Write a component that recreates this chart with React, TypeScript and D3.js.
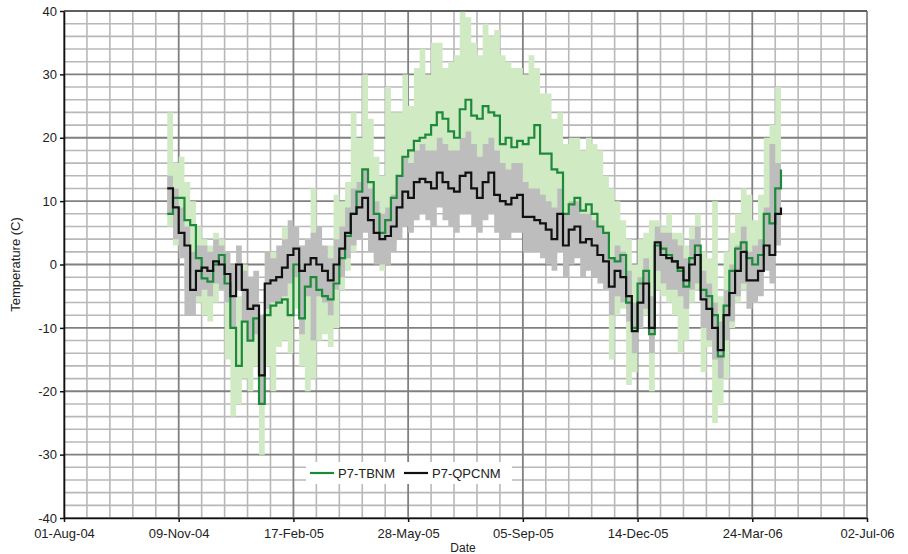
import React, { useEffect, useRef } from "react";
import * as d3 from "d3";

// samples every 5 days starting 30-Oct-04
const firstSample = new Date(2004, 9, 30);
const sampleStep = 5;

// P7-TBNM daily mean (green line)
const tbnm = [
  8, 10.5, 10.5, 7, 6.2, 1, -2.2, -2.7, 0, 1.5,
  -3, -10, -16, -9, -12, -8.5, -22, -8, -6.5, -6,
  -5.5, -8, 0, -8.5, -3.5, -2, -4, -5, -5.5, -3,
  1, 4.5, 8, 11.5, 15, 13, 8, 5, 7, 10.5,
  14, 17, 18, 19.5, 20, 20.5, 22, 24, 23, 21,
  20, 24.5, 26, 23.5, 23, 25, 24, 23.5, 19, 20,
  18.5, 19.5, 19, 20, 22, 17.5, 17.5, 15, 14.5, 8,
  9.5, 10.5, 8.5, 9.5, 8, 6, 5, 1, 0.5, 1.5,
  -6, -10, -3, -1, -11, 3, 2.5, 1.5, 0.5, -1,
  -3.5, 1, 3, -4, -5, -8, -14.5, -6.5, -1, 2.5,
  3.5, 1, 0, 1.5, 8, 6.5, 12, 15,
];

// P7-QPCNM daily mean (black line)
const qpcnm = [
  12, 9, 5, 3, -4, -1, -0.5, -1, 0.5, 0,
  -1.5, -5, 0, -4, -7, -6.5, -17.5, -3, -2.5, -2,
  -0.5, 1.5, 2.5, -1, 0, 1, 0, -1, -2.5, 0,
  2.5, 5, 8, 9, 10.5, 7, 5, 4, 4.5, 6,
  9, 11.5, 10.5, 13, 13.5, 13, 12, 14.5, 13, 12,
  11.5, 14, 14.5, 12, 10.5, 13, 14.5, 11, 10, 9.5,
  10.5, 11, 7.5, 7.5, 7, 6.5, 5.5, 4, 8, 3,
  5.5, 6, 3.5, 4, 3, 1.5, 0.5, -3.5, -1, -2,
  -5, -10.5, -6, -3, -10, 3.5, 1.5, 1, 0.5, -0.5,
  -2.5, 0, 1.5, -5.5, -7, -10, -13.5, -8, -4.5, -1,
  2, -2.5, -2.5, -1, 3, 1.5, 8, 9,
];

// TBNM daily range (light green band)
const tbnmHigh = [
  24, 16, 17, 13, 10, 6, 4, 3, 5, 4,
  2, -3, -5, 0, -3, -2, -8, 2, 2, 0,
  6, 1, 6, 2, 4, 12, 3, 1, 3, 11,
  10, 13, 24, 20, 30, 23, 17, 14, 28, 24,
  24, 30, 25, 31, 34, 30, 35, 35, 31, 32,
  33, 40, 39, 35, 33, 38, 36, 37, 33, 32,
  31, 31, 30, 33, 31, 27, 27, 23, 24, 19,
  20, 20, 18, 20, 19, 18, 14, 12, 10, 7,
  4, 0, 4, 5, 7, 7, 6, 8, 5, 5,
  3, 6, 8, 2, 1, 10, -5, 2, 5, 8,
  12, 11, 7, 11, 20, 22, 28, 28,
];
const tbnmLow = [
  6, 3, 2, -4, -6, -6, -8, -9, -6, -4,
  -15, -24, -22, -18, -20, -16, -30, -16, -20, -13,
  -12, -14, -7, -16, -20, -18, -12, -11, -13, -10,
  -4, -1, 2, 4, 6, 3, 1, -1, 0, 3,
  5, 8, 8, 9, 10, 10, 11, 12, 11, 10,
  10, 12, 13, 12, 11, 12, 12, 11, 9, 9,
  9, 9, 7, 8, 8, 6, 5, 4, 5, 0,
  2, 3, 1, 2, 0, -2, -4, -15, -8, -7,
  -19, -17, -9, -8, -20, -4, -5, -6, -8, -14,
  -12, -6, -4, -17, -13, -25, -22, -18, -10, -6,
  -4, -7, -6, -4, 1, -2, 5, 8,
];

// QPCNM daily range (grey band)
const qpcnmHigh = [
  14, 12, 9, 6, 2, 3, 3, 2, 4, 3,
  2, 0, 3, -1, -2, -1, -8, 2, 1, 3,
  4, 7, 6, 3, 4, 5, 6, 3, 1, 4,
  6, 9, 12, 13, 15, 12, 10, 8, 9, 11,
  14, 17, 16, 18, 19, 18, 18, 20, 19, 18,
  18, 20, 21, 19, 17, 19, 20, 18, 16, 15,
  16, 16, 13, 12, 12, 11, 10, 9, 12, 8,
  10, 10, 8, 8, 7, 6, 5, 1, 3, 2,
  -1, -6, -2, 1, -5, 6, 5, 5, 4, 3,
  1, 4, 6, -1, -3, -6, -9, -4, 0, 3,
  6, 2, 3, 4, 9, 19, 16, 18,
];
const qpcnmLow = [
  8, 4, 1, -8, -8, -5, -4, -5, -3, -4,
  -6, -10, -4, -9, -12, -11, -22, -7, -6, -6,
  -5, -3, -2, -11, -5, -12, -5, -6, -8, -4,
  -2, 1, 3, 4, 5, 2, 0, 0, 0, 2,
  4, 6, 5, 7, 8, 7, 6, 9, 7, 6,
  5, 8, 8, 6, 5, 7, 8, 5, 4, 4,
  5, 5, 2, 2, 2, 1, 0, -1, 2, -2,
  0, 1, -2, -1, -2, -3, -4, -8, -5, -6,
  -9, -14, -10, -7, -14, -1, -3, -4, -4, -5,
  -7, -4, -3, -10, -12, -15, -18, -12, -9, -5,
  -3, -7, -6, -5, -1, -3, 3, 5,
];

const xTickDates = [
  "2004-08-01", "2004-11-09", "2005-02-17", "2005-05-28",
  "2005-09-05", "2005-12-14", "2006-03-24", "2006-07-02",
];
const yTicks = [40, 30, 20, 10, 0, -10, -20, -30, -40];
const seriesNames = ["P7-TBNM", "P7-QPCNM"];

const W = 908;
const H = 554;
const margin = { top: 11, right: 41, bottom: 36, left: 64 };

export default function App() {
  const ref = useRef<SVGSVGElement>(null);

  useEffect(() => {
    const svg = d3.select(ref.current);
    svg.selectAll("*").remove();

    const parse = d3.timeParse("%Y-%m-%d");
    const tickDates = xTickDates.map((s) => parse(s) as Date);
    const dates = tbnm.map((_, i) => d3.timeDay.offset(firstSample, i * sampleStep));

    const x = d3
      .scaleTime()
      .domain([tickDates[0], tickDates[tickDates.length - 1]])
      .range([margin.left, W - margin.right]);
    const y = d3.scaleLinear().domain([-40, 40]).range([H - margin.bottom, margin.top]);

    const font = "'Liberation Sans', Arial, sans-serif";
    const fs = 13;

    // grid
    const grid = svg.append("g");
    const minorY = d3.range(-40, 41, 2).filter((v) => v % 10 !== 0);
    grid
      .selectAll(".hy")
      .data(minorY)
      .join("line")
      .attr("x1", margin.left)
      .attr("x2", W - margin.right)
      .attr("y1", (d) => y(d))
      .attr("y2", (d) => y(d))
      .attr("stroke", "#b8b8b8")
      .attr("stroke-width", 1.6);
    const minorX: Date[] = [];
    for (let k = 0; k < tickDates.length - 1; k++) {
      for (let j = 1; j < 5; j++) minorX.push(d3.timeDay.offset(tickDates[k], j * 20));
    }
    grid
      .selectAll(".vx")
      .data(minorX)
      .join("line")
      .attr("x1", (d) => x(d))
      .attr("x2", (d) => x(d))
      .attr("y1", margin.top)
      .attr("y2", H - margin.bottom)
      .attr("stroke", "#b8b8b8")
      .attr("stroke-width", 1.6);
    grid
      .selectAll(".hmaj")
      .data(yTicks)
      .join("line")
      .attr("x1", margin.left)
      .attr("x2", W - margin.right)
      .attr("y1", (d) => y(d))
      .attr("y2", (d) => y(d))
      .attr("stroke", "#808080")
      .attr("stroke-width", 1.8);
    grid
      .selectAll(".vmaj")
      .data(tickDates)
      .join("line")
      .attr("x1", (d) => x(d))
      .attr("x2", (d) => x(d))
      .attr("y1", margin.top)
      .attr("y2", H - margin.bottom)
      .attr("stroke", "#808080")
      .attr("stroke-width", 1.8);

    const idx = d3.range(tbnm.length);
    const band = (hi: number[], lo: number[]) =>
      d3
        .area<number>()
        .x((i) => x(dates[i]))
        .y0((i) => y(lo[i]))
        .y1((i) => y(hi[i]))
        .curve(d3.curveStepAfter);
    const line = (vals: number[]) =>
      d3
        .line<number>()
        .x((i) => x(dates[i]))
        .y((i) => y(vals[i]))
        .curve(d3.curveStepAfter);

    svg.append("path").attr("d", band(tbnmHigh, tbnmLow)(idx)).attr("fill", "#d0eac4");
    svg.append("path").attr("d", band(qpcnmHigh, qpcnmLow)(idx)).attr("fill", "#bdbdbd");
    svg
      .append("path")
      .attr("d", line(tbnm)(idx))
      .attr("fill", "none")
      .attr("stroke", "#1d8a3a")
      .attr("stroke-width", 2.2);
    svg
      .append("path")
      .attr("d", line(qpcnm)(idx))
      .attr("fill", "none")
      .attr("stroke", "#111")
      .attr("stroke-width", 2.2);

    // axes frame
    const bottom = H - margin.bottom;
    svg
      .append("line")
      .attr("x1", margin.left)
      .attr("x2", W - margin.right)
      .attr("y1", margin.top)
      .attr("y2", margin.top)
      .attr("stroke", "#555")
      .attr("stroke-width", 1.5);

    const xAxis = svg
      .append("g")
      .attr("transform", `translate(0,${bottom})`)
      .call(
        d3
          .axisBottom(x)
          .tickValues(tickDates)
          .tickFormat((d) => d3.timeFormat("%d-%b-%y")(d as Date))
          .tickSize(4)
          .tickSizeOuter(0)
      );
    xAxis.select(".domain").attr("stroke", "#111").attr("stroke-width", 1.6);
    xAxis.selectAll(".tick line").attr("stroke", "#111").attr("stroke-width", 1.5);
    xAxis
      .selectAll("text")
      .attr("font-family", font)
      .attr("font-size", fs)
      .attr("fill", "#222")
      .attr("y", 11);

    const yAxis = svg
      .append("g")
      .attr("transform", `translate(${margin.left},0)`)
      .call(
        d3
          .axisLeft(y)
          .tickValues(yTicks)
          .tickFormat((d) => String(d))
          .tickSize(4)
          .tickSizeOuter(0)
      );
    yAxis.select(".domain").attr("stroke", "#111").attr("stroke-width", 1.6);
    yAxis.selectAll(".tick line").attr("stroke", "#111").attr("stroke-width", 1.5);
    yAxis
      .selectAll("text")
      .attr("font-family", font)
      .attr("font-size", fs)
      .attr("fill", "#222");

    svg
      .append("text")
      .attr("transform", `translate(20,${(margin.top + bottom) / 2}) rotate(-90)`)
      .attr("text-anchor", "middle")
      .attr("font-family", font)
      .attr("font-size", fs)
      .attr("fill", "#222")
      .text("Temperature (C)");
    svg
      .append("text")
      .attr("x", 463)
      .attr("y", 552)
      .attr("text-anchor", "middle")
      .attr("font-family", font)
      .attr("font-size", 12)
      .attr("fill", "#222")
      .text("Date");

    // legend
    const lg = svg.append("g").attr("transform", "translate(306,462)");
    lg.append("rect").attr("width", 206).attr("height", 22).attr("fill", "#fff");
    const legendColors = ["#1d8a3a", "#111"];
    const legendX = [4, 98];
    seriesNames.forEach((name, i) => {
      lg.append("line")
        .attr("x1", legendX[i])
        .attr("x2", legendX[i] + 24)
        .attr("y1", 11)
        .attr("y2", 11)
        .attr("stroke", legendColors[i])
        .attr("stroke-width", 2.2);
      lg.append("text")
        .attr("x", legendX[i] + 28)
        .attr("y", 15.5)
        .attr("font-family", font)
        .attr("font-size", fs)
        .attr("fill", "#222")
        .text(name);
    });
  }, []);

  return (
    <svg
      ref={ref}
      width={W}
      height={H}
      style={{ position: "absolute", left: 0, top: 0, background: "#fff" }}
    />
  );
}
